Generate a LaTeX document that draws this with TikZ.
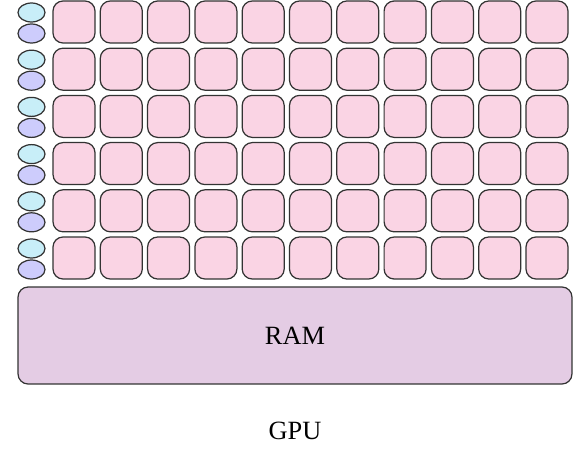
\documentclass[tikz,border=0pt]{standalone}
\usepackage{fontspec}
\setmainfont{Liberation Serif}
\usetikzlibrary{shapes.geometric}

\definecolor{corepink}{HTML}{FAD4E4}
\definecolor{regcyan}{HTML}{C8EEF8}
\definecolor{reglav}{HTML}{CDCCFC}
\definecolor{ramlilac}{HTML}{E4CCE4}
\definecolor{edgegray}{HTML}{333333}

\tikzset{
  core/.style={draw=edgegray, line width=0.7pt, fill=corepink, rounded corners=0.2cm,
    minimum width=0.84cm, minimum height=0.84cm, inner sep=0pt},
  reg/.style={draw=edgegray, line width=0.7pt, ellipse, minimum width=0.54cm,
    minimum height=0.38cm, inner sep=0pt},
  ram/.style={draw=edgegray, line width=0.7pt, fill=ramlilac, rounded corners=0.2cm,
    minimum width=11.08cm, minimum height=1.94cm, inner sep=0pt, font=\fontsize{15}{18}\selectfont},
  label/.style={font=\fontsize{15}{18}\selectfont}
}

\begin{document}
\begin{tikzpicture}[x=0.02cm, y=-0.02cm]
\useasboundingbox (0,0) rectangle (573,449);

% register pairs at the left of each row
\foreach \r in {0,...,5} {
    \node[reg, fill=regcyan] (ra-\r) at (31.5, 12.5+47.2*\r) {};
    \node[reg, fill=reglav] (rb-\r) at (31.5, 33.5+47.2*\r) {};
}

% grid of cores
\foreach \r in {0,...,5} {
    \foreach \c in {0,...,10} {
        \node[core] (c-\r-\c) at (74+47.3*\c, 22+47.2*\r) {};
    }
}

% memory
\node[ram] (ram) at (295, 335.5) {RAM};
\node[label] (gpu) at (295, 431) {GPU};
\end{tikzpicture}
\end{document}
